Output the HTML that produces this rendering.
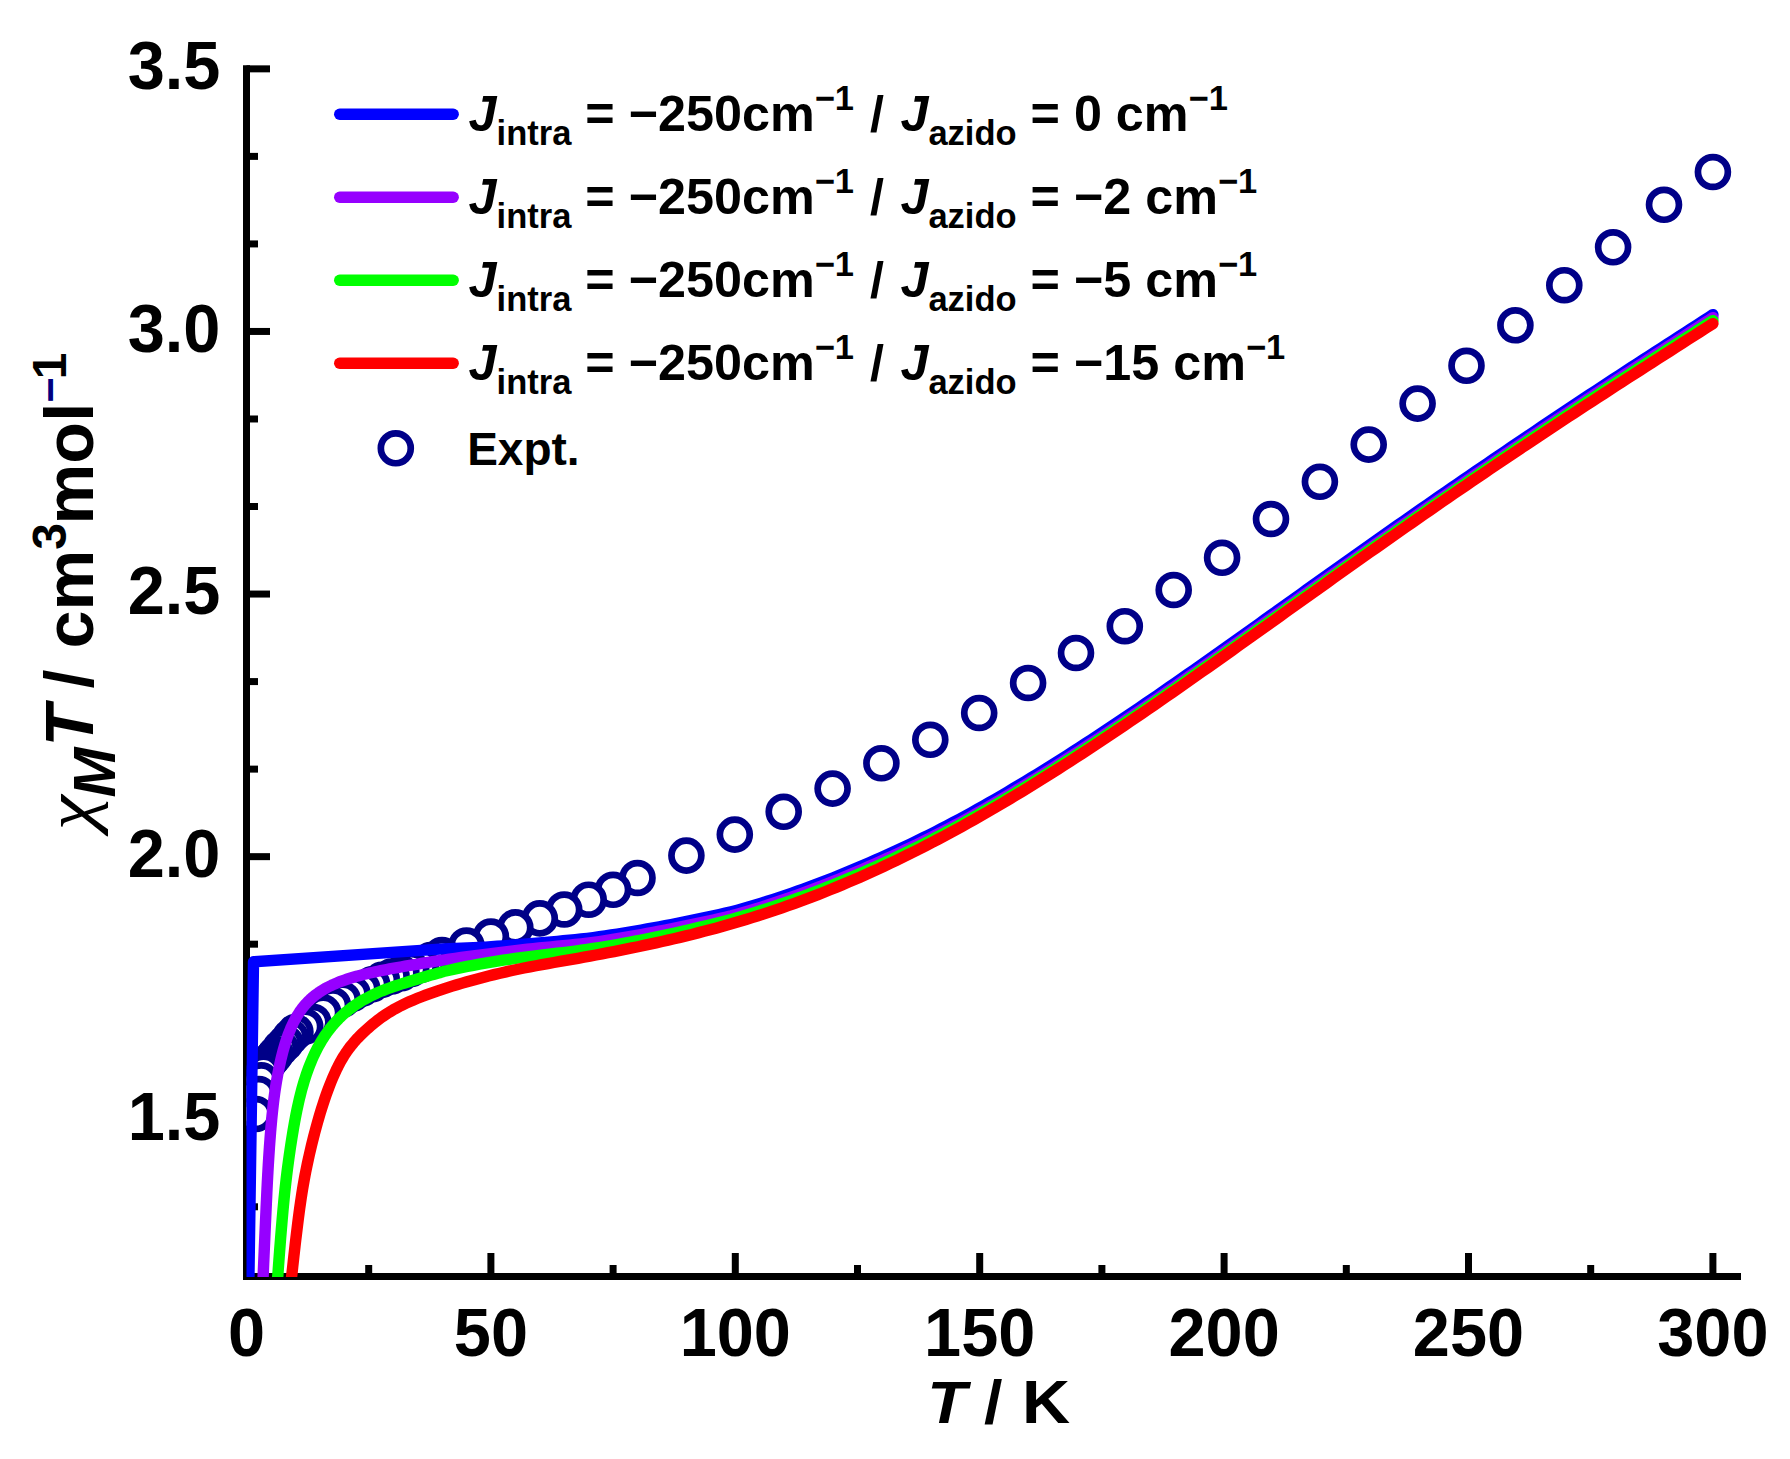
<!DOCTYPE html>
<html lang="en">
<head>
<meta charset="utf-8">
<title>chi M T vs T</title>
<style>
html,body{margin:0;padding:0;background:#fff;}
body{width:1790px;height:1459px;overflow:hidden;}
svg{display:block;}
</style>
</head>
<body>
<svg width="1790" height="1459" viewBox="0 0 1790 1459">
<defs><clipPath id="pc"><rect x="246.5" y="0" width="1540" height="1277"/></clipPath></defs>
<rect width="1790" height="1459" fill="#fff"/>
<g stroke="#000" stroke-width="7" fill="none" stroke-linecap="butt">
<path d="M246.5 65.35V1280"/>
<path d="M243 1276.5H1741"/>
<path d="M246.5 68.85h23.5"/>
<path d="M246.5 156.38h11.5"/>
<path d="M246.5 243.92h11.5"/>
<path d="M246.5 331.45h23.5"/>
<path d="M246.5 418.98h11.5"/>
<path d="M246.5 506.52h11.5"/>
<path d="M246.5 594.05h23.5"/>
<path d="M246.5 681.58h11.5"/>
<path d="M246.5 769.12h11.5"/>
<path d="M246.5 856.65h23.5"/>
<path d="M246.5 944.18h11.5"/>
<path d="M246.5 1031.72h11.5"/>
<path d="M246.5 1119.25h23.5"/>
<path d="M246.5 1206.78h11.5"/>
<path d="M246.50 1276.5v-23.5"/>
<path d="M368.70 1276.5v-11.5"/>
<path d="M490.90 1276.5v-23.5"/>
<path d="M613.10 1276.5v-11.5"/>
<path d="M735.30 1276.5v-23.5"/>
<path d="M857.50 1276.5v-11.5"/>
<path d="M979.70 1276.5v-23.5"/>
<path d="M1101.90 1276.5v-11.5"/>
<path d="M1224.10 1276.5v-23.5"/>
<path d="M1346.30 1276.5v-11.5"/>
<path d="M1468.50 1276.5v-23.5"/>
<path d="M1590.70 1276.5v-11.5"/>
<path d="M1712.90 1276.5v-23.5"/>
</g>
<g fill="#fff" stroke="#000088" stroke-width="6.7" clip-path="url(#pc)">
<circle cx="1712.9" cy="172.0" r="14.95"/>
<circle cx="1664.0" cy="204.8" r="14.95"/>
<circle cx="1613.1" cy="247.3" r="14.95"/>
<circle cx="1564.3" cy="285.2" r="14.95"/>
<circle cx="1515.4" cy="325.3" r="14.95"/>
<circle cx="1466.5" cy="365.8" r="14.95"/>
<circle cx="1417.6" cy="403.6" r="14.95"/>
<circle cx="1368.7" cy="444.6" r="14.95"/>
<circle cx="1319.9" cy="481.8" r="14.95"/>
<circle cx="1271.0" cy="519.0" r="14.95"/>
<circle cx="1222.1" cy="557.8" r="14.95"/>
<circle cx="1173.7" cy="590.0" r="14.95"/>
<circle cx="1124.8" cy="626.2" r="14.95"/>
<circle cx="1076.0" cy="653.0" r="14.95"/>
<circle cx="1028.1" cy="683.0" r="14.95"/>
<circle cx="979.2" cy="713.0" r="14.95"/>
<circle cx="930.3" cy="739.8" r="14.95"/>
<circle cx="881.4" cy="763.3" r="14.95"/>
<circle cx="832.6" cy="788.6" r="14.95"/>
<circle cx="783.7" cy="811.8" r="14.95"/>
<circle cx="734.8" cy="834.6" r="14.95"/>
<circle cx="686.4" cy="855.6" r="14.95"/>
<circle cx="637.5" cy="878.0" r="14.95"/>
<circle cx="613.1" cy="889.8" r="14.95"/>
<circle cx="588.7" cy="899.7" r="14.95"/>
<circle cx="564.2" cy="909.5" r="14.95"/>
<circle cx="539.8" cy="918.4" r="14.95"/>
<circle cx="515.3" cy="927.4" r="14.95"/>
<circle cx="490.9" cy="936.5" r="14.95"/>
<circle cx="466.5" cy="945.5" r="14.95"/>
<circle cx="442.0" cy="955.0" r="14.95"/>
<circle cx="430.7" cy="960.0" r="14.95"/>
<circle cx="421.0" cy="964.9" r="14.95"/>
<circle cx="411.2" cy="969.0" r="14.95"/>
<circle cx="401.4" cy="973.2" r="14.95"/>
<circle cx="391.6" cy="976.5" r="14.95"/>
<circle cx="381.9" cy="979.9" r="14.95"/>
<circle cx="372.1" cy="984.2" r="14.95"/>
<circle cx="362.3" cy="988.6" r="14.95"/>
<circle cx="352.5" cy="993.7" r="14.95"/>
<circle cx="342.8" cy="999.5" r="14.95"/>
<circle cx="333.0" cy="1005.3" r="14.95"/>
<circle cx="323.2" cy="1012.6" r="14.95"/>
<circle cx="313.4" cy="1022.0" r="14.95"/>
<circle cx="305.2" cy="1026.5" r="14.95"/>
<circle cx="295.4" cy="1032.0" r="14.95"/>
<circle cx="290.5" cy="1037.0" r="14.95"/>
<circle cx="285.6" cy="1043.0" r="14.95"/>
<circle cx="280.7" cy="1048.0" r="14.95"/>
<circle cx="275.8" cy="1054.0" r="14.95"/>
<circle cx="273.4" cy="1057.0" r="14.95"/>
<circle cx="270.9" cy="1060.0" r="14.95"/>
<circle cx="268.5" cy="1063.0" r="14.95"/>
<circle cx="266.1" cy="1066.0" r="14.95"/>
<circle cx="263.6" cy="1071.6" r="14.95"/>
<circle cx="261.2" cy="1080.4" r="14.95"/>
<circle cx="258.7" cy="1094.0" r="14.95"/>
<circle cx="255.8" cy="1114.0" r="14.95"/>
</g>
<g fill="none" stroke-width="11.4" stroke-linecap="round" stroke-linejoin="round" clip-path="url(#pc)">
<path stroke="#0000ff" d="M248.60 1300.00 L253.50 961.80 L443.30 948.92 L449.30 948.70 L455.30 948.47 L461.30 948.23 L467.30 947.98 L473.30 947.71 L479.30 947.41 L485.30 947.07 L491.30 946.70 L497.30 946.28 L503.30 945.82 L509.30 945.34 L515.30 944.86 L521.30 944.37 L527.30 943.88 L533.30 943.39 L539.30 942.88 L545.30 942.37 L551.30 941.86 L557.30 941.34 L563.30 940.80 L569.30 940.24 L575.30 939.63 L581.30 938.98 L587.30 938.29 L593.30 937.54 L599.30 936.74 L605.30 935.89 L611.30 935.00 L617.30 934.06 L623.30 933.09 L629.30 932.08 L635.30 931.06 L641.30 930.01 L647.30 928.95 L653.30 927.88 L659.30 926.77 L665.30 925.64 L671.30 924.47 L677.30 923.28 L683.30 922.07 L689.30 920.83 L695.30 919.58 L701.30 918.30 L707.30 917.05 L713.30 915.80 L719.30 914.53 L725.30 913.18 L731.30 911.73 L737.30 910.14 L743.30 908.47 L749.30 906.75 L755.30 904.98 L761.30 903.17 L767.30 901.30 L773.30 899.38 L779.30 897.41 L785.30 895.40 L791.30 893.34 L797.30 891.23 L803.30 889.08 L809.30 886.89 L815.30 884.65 L821.30 882.37 L827.30 880.05 L833.30 877.68 L839.30 875.28 L845.30 872.84 L851.30 870.36 L857.30 867.85 L863.30 865.30 L869.30 862.71 L875.30 860.09 L881.30 857.43 L887.30 854.74 L893.30 852.00 L899.30 849.23 L905.30 846.41 L911.30 843.56 L917.30 840.66 L923.30 837.73 L929.30 834.75 L935.30 831.72 L941.30 828.66 L947.30 825.55 L953.30 822.39 L959.30 819.19 L965.30 815.95 L971.30 812.66 L977.30 809.32 L983.30 805.94 L989.30 802.52 L995.30 799.07 L1001.30 795.58 L1007.30 792.07 L1013.30 788.51 L1019.30 784.93 L1025.30 781.32 L1031.30 777.67 L1037.30 774.00 L1043.30 770.30 L1049.30 766.57 L1055.30 762.81 L1061.30 759.02 L1067.30 755.21 L1073.30 751.37 L1079.30 747.51 L1085.30 743.62 L1091.30 739.71 L1097.30 735.78 L1103.30 731.82 L1109.30 727.84 L1115.30 723.85 L1121.30 719.83 L1127.30 715.79 L1133.30 711.74 L1139.30 707.66 L1145.30 703.57 L1151.30 699.46 L1157.30 695.34 L1163.30 691.20 L1169.30 687.05 L1175.30 682.89 L1181.30 678.71 L1187.30 674.52 L1193.30 670.31 L1199.30 666.10 L1205.30 661.88 L1211.30 657.64 L1217.30 653.40 L1223.30 649.15 L1229.30 644.89 L1235.30 640.63 L1241.30 636.36 L1247.30 632.09 L1253.30 627.81 L1259.30 623.53 L1265.30 619.25 L1271.30 614.97 L1277.30 610.68 L1283.30 606.40 L1289.30 602.11 L1295.30 597.83 L1301.30 593.54 L1307.30 589.26 L1313.30 584.98 L1319.30 580.70 L1325.30 576.43 L1331.30 572.16 L1337.30 567.89 L1343.30 563.62 L1349.30 559.37 L1355.30 555.11 L1361.30 550.86 L1367.30 546.62 L1373.30 542.38 L1379.30 538.15 L1385.30 533.93 L1391.30 529.72 L1397.30 525.51 L1403.30 521.31 L1409.30 517.11 L1415.30 512.93 L1421.30 508.75 L1427.30 504.59 L1433.30 500.43 L1439.30 496.28 L1445.30 492.14 L1451.30 488.01 L1457.30 483.89 L1463.30 479.78 L1469.30 475.68 L1475.30 471.58 L1481.30 467.49 L1487.30 463.40 L1493.30 459.31 L1499.30 455.23 L1505.30 451.15 L1511.30 447.08 L1517.30 443.01 L1523.30 438.95 L1529.30 434.90 L1535.30 430.85 L1541.30 426.82 L1547.30 422.79 L1553.30 418.77 L1559.30 414.76 L1565.30 410.76 L1571.30 406.77 L1577.30 402.80 L1583.30 398.83 L1589.30 394.87 L1595.30 390.93 L1601.30 386.99 L1607.30 383.06 L1613.30 379.13 L1619.30 375.22 L1625.30 371.30 L1631.30 367.40 L1637.30 363.50 L1643.30 359.60 L1649.30 355.71 L1655.30 351.82 L1661.30 347.94 L1667.30 344.06 L1673.30 340.18 L1679.30 336.30 L1685.30 332.42 L1691.30 328.55 L1697.30 324.68 L1703.30 320.80 L1709.30 316.93 L1712.90 314.60"/>
<path stroke="#9600ff" d="M262.19 1300.20 L262.25 1298.45 L262.33 1296.42 L262.41 1294.11 L262.51 1291.54 L262.63 1288.74 L262.75 1285.71 L262.88 1282.47 L263.02 1279.05 L263.17 1275.45 L263.33 1271.69 L263.49 1267.80 L263.66 1263.78 L263.84 1259.65 L264.02 1255.43 L264.21 1251.14 L264.40 1246.79 L264.59 1242.41 L264.78 1237.99 L264.98 1233.57 L265.17 1229.16 L265.37 1224.78 L265.56 1220.44 L265.75 1216.15 L265.95 1211.95 L266.13 1207.83 L266.32 1203.83 L266.50 1199.95 L266.67 1196.20 L266.84 1192.56 L267.01 1189.02 L267.18 1185.56 L267.35 1182.15 L267.53 1178.79 L267.70 1175.45 L267.89 1172.11 L268.08 1168.76 L268.27 1165.37 L268.48 1161.94 L268.70 1158.43 L268.92 1154.85 L269.17 1151.19 L269.42 1147.46 L269.69 1143.69 L269.97 1139.87 L270.26 1136.02 L270.57 1132.15 L270.89 1128.26 L271.23 1124.38 L271.59 1120.51 L271.95 1116.65 L272.34 1112.83 L272.74 1109.04 L273.16 1105.31 L273.59 1101.64 L274.04 1098.04 L274.51 1094.51 L274.99 1091.06 L275.50 1087.68 L276.02 1084.37 L276.55 1081.12 L277.10 1077.94 L277.67 1074.82 L278.26 1071.77 L278.86 1068.77 L279.48 1065.83 L280.11 1062.94 L280.76 1060.10 L281.42 1057.32 L282.10 1054.59 L282.80 1051.90 L283.52 1049.27 L284.25 1046.69 L285.01 1044.16 L285.79 1041.68 L286.59 1039.25 L287.41 1036.87 L288.26 1034.54 L289.14 1032.25 L290.04 1030.02 L290.97 1027.83 L291.92 1025.70 L292.91 1023.61 L293.92 1021.57 L294.97 1019.58 L296.05 1017.63 L297.16 1015.74 L298.31 1013.89 L299.49 1012.08 L300.71 1010.33 L301.96 1008.62 L303.26 1006.95 L304.59 1005.34 L305.96 1003.77 L307.37 1002.24 L308.82 1000.76 L310.32 999.33 L311.86 997.94 L313.44 996.60 L315.07 995.29 L316.74 994.03 L318.45 992.81 L320.20 991.62 L322.00 990.48 L323.84 989.37 L325.72 988.29 L327.64 987.25 L329.61 986.25 L331.62 985.27 L333.67 984.33 L335.77 983.41 L337.91 982.53 L340.09 981.67 L342.31 980.83 L344.58 980.02 L346.88 979.24 L349.24 978.48 L351.63 977.74 L354.06 977.01 L356.54 976.31 L359.06 975.63 L361.62 974.96 L364.23 974.31 L366.87 973.68 L369.56 973.05 L372.29 972.44 L375.07 971.84 L377.88 971.25 L380.74 970.67 L383.64 970.10 L386.58 969.53 L389.56 968.97 L392.59 968.41 L395.65 967.85 L398.76 967.30 L401.91 966.75 L405.10 966.20 L408.32 965.65 L411.56 965.10 L414.82 964.55 L418.09 964.01 L421.36 963.48 L424.61 962.96 L427.86 962.44 L431.08 961.93 L434.28 961.43 L437.43 960.94 L440.55 960.46 L443.30 960.04 L449.30 959.16 L455.30 958.30 L461.30 957.47 L467.30 956.66 L473.30 955.87 L479.30 955.09 L485.30 954.33 L491.30 953.57 L497.30 952.82 L503.30 952.08 L509.30 951.34 L515.30 950.63 L521.30 949.94 L527.30 949.27 L533.30 948.63 L539.30 948.01 L545.30 947.41 L551.30 946.84 L557.30 946.28 L563.30 945.71 L569.30 945.13 L575.30 944.51 L581.30 943.85 L587.30 943.14 L593.30 942.38 L599.30 941.55 L605.30 940.66 L611.30 939.72 L617.30 938.75 L623.30 937.74 L629.30 936.70 L635.30 935.64 L641.30 934.56 L647.30 933.46 L653.30 932.35 L659.30 931.21 L665.30 930.04 L671.30 928.84 L677.30 927.61 L683.30 926.36 L689.30 925.09 L695.30 923.80 L701.30 922.50 L707.30 921.22 L713.30 919.96 L719.30 918.68 L725.30 917.32 L731.30 915.85 L737.30 914.23 L743.30 912.52 L749.30 910.77 L755.30 908.97 L761.30 907.12 L767.30 905.22 L773.30 903.28 L779.30 901.28 L785.30 899.24 L791.30 897.16 L797.30 895.03 L803.30 892.86 L809.30 890.64 L815.30 888.38 L821.30 886.08 L827.30 883.74 L833.30 881.36 L839.30 878.93 L845.30 876.47 L851.30 873.98 L857.30 871.45 L863.30 868.88 L869.30 866.29 L875.30 863.66 L881.30 861.01 L887.30 858.32 L893.30 855.59 L899.30 852.83 L905.30 850.03 L911.30 847.19 L917.30 844.31 L923.30 841.39 L929.30 838.43 L935.30 835.42 L941.30 832.36 L947.30 829.27 L953.30 826.12 L959.30 822.92 L965.30 819.67 L971.30 816.38 L977.30 813.03 L983.30 809.63 L989.30 806.19 L995.30 802.72 L1001.30 799.22 L1007.30 795.68 L1013.30 792.11 L1019.30 788.51 L1025.30 784.88 L1031.30 781.22 L1037.30 777.53 L1043.30 773.81 L1049.30 770.06 L1055.30 766.29 L1061.30 762.48 L1067.30 758.65 L1073.30 754.80 L1079.30 750.92 L1085.30 747.02 L1091.30 743.09 L1097.30 739.15 L1103.30 735.18 L1109.30 731.19 L1115.30 727.17 L1121.30 723.14 L1127.30 719.09 L1133.30 715.03 L1139.30 710.94 L1145.30 706.84 L1151.30 702.73 L1157.30 698.59 L1163.30 694.45 L1169.30 690.29 L1175.30 686.11 L1181.30 681.93 L1187.30 677.73 L1193.30 673.53 L1199.30 669.31 L1205.30 665.08 L1211.30 660.85 L1217.30 656.60 L1223.30 652.35 L1229.30 648.09 L1235.30 643.83 L1241.30 639.56 L1247.30 635.29 L1253.30 631.01 L1259.30 626.73 L1265.30 622.45 L1271.30 618.17 L1277.30 613.88 L1283.30 609.60 L1289.30 605.31 L1295.30 601.03 L1301.30 596.74 L1307.30 592.46 L1313.30 588.18 L1319.30 583.90 L1325.30 579.63 L1331.30 575.36 L1337.30 571.09 L1343.30 566.82 L1349.30 562.57 L1355.30 558.31 L1361.30 554.06 L1367.30 549.82 L1373.30 545.58 L1379.30 541.35 L1385.30 537.13 L1391.30 532.92 L1397.30 528.71 L1403.30 524.51 L1409.30 520.31 L1415.30 516.13 L1421.30 511.95 L1427.30 507.79 L1433.30 503.63 L1439.30 499.48 L1445.30 495.34 L1451.30 491.21 L1457.30 487.09 L1463.30 482.98 L1469.30 478.88 L1475.30 474.78 L1481.30 470.68 L1487.30 466.59 L1493.30 462.50 L1499.30 458.41 L1505.30 454.33 L1511.30 450.26 L1517.30 446.18 L1523.30 442.12 L1529.30 438.06 L1535.30 434.01 L1541.30 429.97 L1547.30 425.93 L1553.30 421.91 L1559.30 417.89 L1565.30 413.89 L1571.30 409.89 L1577.30 405.91 L1583.30 401.94 L1589.30 397.97 L1595.30 394.02 L1601.30 390.08 L1607.30 386.15 L1613.30 382.22 L1619.30 378.29 L1625.30 374.38 L1631.30 370.47 L1637.30 366.56 L1643.30 362.66 L1649.30 358.76 L1655.30 354.87 L1661.30 350.98 L1667.30 347.09 L1673.30 343.21 L1679.30 339.33 L1685.30 335.45 L1691.30 331.57 L1697.30 327.69 L1703.30 323.81 L1709.30 319.93 L1712.90 317.60"/>
<path stroke="#00ff00" d="M276.28 1300.16 L276.37 1298.35 L276.49 1296.22 L276.63 1293.77 L276.79 1291.03 L276.98 1288.02 L277.19 1284.75 L277.42 1281.26 L277.68 1277.56 L277.95 1273.67 L278.23 1269.61 L278.54 1265.40 L278.86 1261.07 L279.19 1256.62 L279.53 1252.08 L279.89 1247.48 L280.25 1242.83 L280.62 1238.15 L281.00 1233.46 L281.39 1228.79 L281.78 1224.15 L282.17 1219.56 L282.57 1215.04 L282.96 1210.62 L283.36 1206.31 L283.75 1202.14 L284.14 1198.12 L284.53 1194.24 L284.92 1190.49 L285.31 1186.83 L285.71 1183.26 L286.12 1179.74 L286.53 1176.25 L286.96 1172.78 L287.40 1169.29 L287.86 1165.77 L288.34 1162.19 L288.84 1158.54 L289.37 1154.79 L289.92 1150.96 L290.49 1147.05 L291.09 1143.09 L291.72 1139.08 L292.36 1135.03 L293.04 1130.96 L293.74 1126.88 L294.46 1122.80 L295.21 1118.74 L295.99 1114.70 L296.79 1110.70 L297.62 1106.75 L298.47 1102.86 L299.35 1099.04 L300.26 1095.31 L301.19 1091.66 L302.15 1088.09 L303.14 1084.60 L304.16 1081.18 L305.21 1077.84 L306.28 1074.58 L307.39 1071.39 L308.52 1068.28 L309.68 1065.24 L310.87 1062.27 L312.10 1059.37 L313.35 1056.54 L314.64 1053.77 L315.95 1051.07 L317.30 1048.44 L318.68 1045.88 L320.09 1043.37 L321.53 1040.93 L323.00 1038.55 L324.51 1036.23 L326.05 1033.97 L327.63 1031.77 L329.24 1029.62 L330.88 1027.53 L332.56 1025.49 L334.27 1023.51 L336.02 1021.58 L337.81 1019.70 L339.63 1017.86 L341.48 1016.08 L343.37 1014.35 L345.30 1012.66 L347.27 1011.02 L349.27 1009.42 L351.31 1007.87 L353.39 1006.36 L355.50 1004.89 L357.65 1003.46 L359.83 1002.07 L362.05 1000.73 L364.29 999.42 L366.56 998.16 L368.87 996.93 L371.19 995.74 L373.55 994.59 L375.92 993.48 L378.33 992.41 L380.75 991.37 L383.19 990.37 L385.65 989.41 L388.15 988.48 L390.69 987.56 L393.29 986.65 L395.97 985.75 L398.75 984.84 L401.63 983.91 L404.64 982.95 L407.75 981.98 L410.95 980.99 L414.22 979.99 L417.54 978.99 L420.89 977.99 L424.26 977.00 L427.63 976.03 L430.97 975.08 L434.27 974.16 L437.51 973.28 L440.68 972.43 L443.30 971.56 L449.30 970.20 L455.30 968.90 L461.30 967.64 L467.30 966.45 L473.30 965.30 L479.30 964.19 L485.30 963.12 L491.30 962.10 L497.30 961.12 L503.30 960.18 L509.30 959.30 L515.30 958.46 L521.30 957.67 L527.30 956.91 L533.30 956.17 L539.30 955.44 L545.30 954.71 L551.30 953.99 L557.30 953.28 L563.30 952.56 L569.30 951.82 L575.30 951.05 L581.30 950.24 L587.30 949.40 L593.30 948.50 L599.30 947.56 L605.30 946.57 L611.30 945.54 L617.30 944.49 L623.30 943.40 L629.30 942.29 L635.30 941.15 L641.30 939.99 L647.30 938.80 L653.30 937.60 L659.30 936.36 L665.30 935.09 L671.30 933.79 L677.30 932.45 L683.30 931.10 L689.30 929.71 L695.30 928.30 L701.30 926.87 L707.30 925.43 L713.30 923.98 L719.30 922.51 L725.30 920.98 L731.30 919.39 L737.30 917.72 L743.30 915.99 L749.30 914.22 L755.30 912.40 L761.30 910.54 L767.30 908.63 L773.30 906.67 L779.30 904.68 L785.30 902.63 L791.30 900.55 L797.30 898.42 L803.30 896.24 L809.30 894.02 L815.30 891.76 L821.30 889.45 L827.30 887.11 L833.30 884.72 L839.30 882.29 L845.30 879.81 L851.30 877.30 L857.30 874.75 L863.30 872.15 L869.30 869.52 L875.30 866.85 L881.30 864.14 L887.30 861.39 L893.30 858.60 L899.30 855.77 L905.30 852.89 L911.30 849.98 L917.30 847.03 L923.30 844.03 L929.30 841.00 L935.30 837.92 L941.30 834.80 L947.30 831.64 L953.30 828.44 L959.30 825.20 L965.30 821.92 L971.30 818.59 L977.30 815.23 L983.30 811.83 L989.30 808.39 L995.30 804.92 L1001.30 801.41 L1007.30 797.87 L1013.30 794.30 L1019.30 790.70 L1025.30 787.07 L1031.30 783.40 L1037.30 779.71 L1043.30 775.99 L1049.30 772.24 L1055.30 768.47 L1061.30 764.66 L1067.30 760.84 L1073.30 756.98 L1079.30 753.10 L1085.30 749.20 L1091.30 745.28 L1097.30 741.33 L1103.30 737.36 L1109.30 733.37 L1115.30 729.36 L1121.30 725.33 L1127.30 721.28 L1133.30 717.22 L1139.30 713.13 L1145.30 709.03 L1151.30 704.92 L1157.30 700.79 L1163.30 696.64 L1169.30 692.48 L1175.30 688.31 L1181.30 684.13 L1187.30 679.93 L1193.30 675.72 L1199.30 671.51 L1205.30 667.28 L1211.30 663.04 L1217.30 658.80 L1223.30 654.55 L1229.30 650.29 L1235.30 646.03 L1241.30 641.76 L1247.30 637.49 L1253.30 633.21 L1259.30 628.93 L1265.30 624.65 L1271.30 620.36 L1277.30 616.08 L1283.30 611.79 L1289.30 607.51 L1295.30 603.22 L1301.30 598.93 L1307.30 594.65 L1313.30 590.37 L1319.30 586.09 L1325.30 581.81 L1331.30 577.54 L1337.30 573.27 L1343.30 569.00 L1349.30 564.74 L1355.30 560.48 L1361.30 556.23 L1367.30 551.99 L1373.30 547.75 L1379.30 543.51 L1385.30 539.29 L1391.30 535.07 L1397.30 530.86 L1403.30 526.65 L1409.30 522.46 L1415.30 518.27 L1421.30 514.09 L1427.30 509.92 L1433.30 505.76 L1439.30 501.60 L1445.30 497.46 L1451.30 493.32 L1457.30 489.20 L1463.30 485.08 L1469.30 480.98 L1475.30 476.88 L1481.30 472.78 L1487.30 468.69 L1493.30 464.60 L1499.30 460.52 L1505.30 456.45 L1511.30 452.38 L1517.30 448.32 L1523.30 444.27 L1529.30 440.23 L1535.30 436.20 L1541.30 432.17 L1547.30 428.16 L1553.30 424.15 L1559.30 420.16 L1565.30 416.18 L1571.30 412.21 L1577.30 408.25 L1583.30 404.30 L1589.30 400.37 L1595.30 396.44 L1601.30 392.53 L1607.30 388.62 L1613.30 384.72 L1619.30 380.82 L1625.30 376.93 L1631.30 373.05 L1637.30 369.17 L1643.30 365.29 L1649.30 361.42 L1655.30 357.56 L1661.30 353.70 L1667.30 349.84 L1673.30 345.99 L1679.30 342.14 L1685.30 338.29 L1691.30 334.44 L1697.30 330.60 L1703.30 326.75 L1709.30 322.91 L1712.90 320.60"/>
<path stroke="#ff0000" d="M288.98 1300.22 L289.26 1297.94 L289.58 1295.22 L289.93 1292.10 L290.32 1288.61 L290.74 1284.78 L291.19 1280.65 L291.67 1276.24 L292.18 1271.58 L292.72 1266.71 L293.27 1261.65 L293.85 1256.45 L294.45 1251.12 L295.07 1245.70 L295.70 1240.22 L296.35 1234.72 L297.02 1229.21 L297.69 1223.74 L298.38 1218.34 L299.07 1213.03 L299.77 1207.85 L300.48 1202.83 L301.19 1197.99 L301.90 1193.34 L302.62 1188.83 L303.36 1184.44 L304.12 1180.15 L304.91 1175.92 L305.72 1171.71 L306.56 1167.51 L307.45 1163.28 L308.38 1159.00 L309.35 1154.63 L310.37 1150.18 L311.44 1145.67 L312.55 1141.10 L313.72 1136.48 L314.92 1131.83 L316.17 1127.17 L317.47 1122.49 L318.80 1117.82 L320.18 1113.16 L321.61 1108.53 L323.07 1103.94 L324.58 1099.41 L326.12 1094.93 L327.71 1090.53 L329.33 1086.22 L331.00 1082.01 L332.70 1077.90 L334.44 1073.92 L336.21 1070.08 L338.02 1066.38 L339.87 1062.84 L341.75 1059.47 L343.67 1056.27 L345.62 1053.24 L347.60 1050.37 L349.61 1047.64 L351.65 1045.04 L353.71 1042.57 L355.79 1040.21 L357.89 1037.94 L360.02 1035.76 L362.16 1033.66 L364.31 1031.63 L366.48 1029.65 L368.66 1027.71 L370.85 1025.81 L373.07 1023.93 L375.33 1022.09 L377.63 1020.28 L380.00 1018.49 L382.45 1016.72 L384.98 1014.98 L387.61 1013.25 L390.35 1011.55 L393.22 1009.85 L396.22 1008.18 L399.37 1006.51 L402.69 1004.85 L406.16 1003.20 L409.79 1001.57 L413.56 999.94 L417.46 998.33 L421.48 996.74 L425.62 995.16 L429.85 993.60 L434.18 992.06 L438.59 990.55 L443.07 989.05 L447.60 987.58 L452.19 986.14 L456.82 984.73 L461.48 983.34 L466.16 981.99 L470.85 980.67 L475.53 979.39 L480.21 978.14 L484.86 976.92 L489.49 975.75 L494.07 974.62 L500.00 973.20 L506.00 971.82 L512.00 970.49 L518.00 969.23 L524.00 968.02 L530.00 966.85 L536.00 965.73 L542.00 964.63 L548.00 963.56 L554.00 962.51 L560.00 961.46 L566.00 960.41 L572.00 959.36 L578.00 958.29 L584.00 957.21 L590.00 956.11 L596.00 955.00 L602.00 953.87 L608.00 952.72 L614.00 951.56 L620.00 950.37 L626.00 949.17 L632.00 947.95 L638.00 946.71 L644.00 945.45 L650.00 944.16 L656.00 942.85 L662.00 941.52 L668.00 940.16 L674.00 938.77 L680.00 937.35 L686.00 935.90 L692.00 934.41 L698.00 932.90 L704.00 931.35 L710.00 929.77 L716.00 928.15 L722.00 926.49 L728.00 924.80 L734.00 923.07 L740.00 921.30 L746.00 919.49 L752.00 917.64 L758.00 915.75 L764.00 913.82 L770.00 911.85 L776.00 909.84 L782.00 907.79 L788.00 905.69 L794.00 903.55 L800.00 901.37 L806.00 899.14 L812.00 896.87 L818.00 894.56 L824.00 892.21 L830.00 889.81 L836.00 887.37 L842.00 884.88 L848.00 882.36 L854.00 879.79 L860.00 877.17 L866.00 874.52 L872.00 871.82 L878.00 869.07 L884.00 866.29 L890.00 863.46 L896.00 860.60 L902.00 857.69 L908.00 854.74 L914.00 851.75 L920.00 848.72 L926.00 845.65 L932.00 842.54 L938.00 839.39 L944.00 836.20 L950.00 832.98 L956.00 829.72 L962.00 826.42 L968.00 823.08 L974.00 819.71 L980.00 816.31 L986.00 812.87 L992.00 809.39 L998.00 805.88 L1004.00 802.34 L1010.00 798.77 L1016.00 795.17 L1022.00 791.53 L1028.00 787.87 L1034.00 784.17 L1040.00 780.45 L1046.00 776.70 L1052.00 772.92 L1058.00 769.11 L1064.00 765.28 L1070.00 761.43 L1076.00 757.55 L1082.00 753.64 L1088.00 749.72 L1094.00 745.77 L1100.00 741.80 L1106.00 737.80 L1112.00 733.79 L1118.00 729.76 L1124.00 725.71 L1130.00 721.64 L1136.00 717.56 L1142.00 713.46 L1148.00 709.34 L1154.00 705.21 L1160.00 701.07 L1166.00 696.91 L1172.00 692.74 L1178.00 688.55 L1184.00 684.36 L1190.00 680.15 L1196.00 675.94 L1202.00 671.71 L1208.00 667.48 L1214.00 663.24 L1220.00 658.99 L1226.00 654.74 L1232.00 650.48 L1238.00 646.21 L1244.00 641.94 L1250.00 637.66 L1256.00 633.39 L1262.00 629.11 L1268.00 624.82 L1274.00 620.54 L1280.00 616.26 L1286.00 611.97 L1292.00 607.69 L1298.00 603.40 L1304.00 599.12 L1310.00 594.84 L1316.00 590.56 L1322.00 586.28 L1328.00 582.01 L1334.00 577.73 L1340.00 573.47 L1346.00 569.21 L1352.00 564.95 L1358.00 560.70 L1364.00 556.45 L1370.00 552.21 L1376.00 547.98 L1382.00 543.75 L1388.00 539.53 L1394.00 535.32 L1400.00 531.12 L1406.00 526.92 L1412.00 522.73 L1418.00 518.55 L1424.00 514.38 L1430.00 510.21 L1436.00 506.06 L1442.00 501.92 L1448.00 497.78 L1454.00 493.65 L1460.00 489.54 L1466.00 485.43 L1472.00 481.33 L1478.00 477.25 L1484.00 473.17 L1490.00 469.10 L1496.00 465.04 L1502.00 461.00 L1508.00 456.96 L1514.00 452.93 L1520.00 448.91 L1526.00 444.90 L1532.00 440.90 L1538.00 436.91 L1544.00 432.93 L1550.00 428.96 L1556.00 425.00 L1562.00 421.05 L1568.00 417.10 L1574.00 413.16 L1580.00 409.24 L1586.00 405.32 L1592.00 401.40 L1598.00 397.50 L1604.00 393.60 L1610.00 389.71 L1616.00 385.82 L1622.00 381.94 L1628.00 378.07 L1634.00 374.20 L1640.00 370.34 L1646.00 366.48 L1652.00 362.62 L1658.00 358.77 L1664.00 354.92 L1670.00 351.08 L1676.00 347.23 L1682.00 343.39 L1688.00 339.55 L1694.00 335.70 L1700.00 331.86 L1706.00 328.02 L1712.90 323.60"/>
</g>
<g stroke-width="11.4" stroke-linecap="round">
<path stroke="#0000ff" d="M339.7 114.2H453.2"/>
<path stroke="#9600ff" d="M339.7 197.2H453.2"/>
<path stroke="#00ff00" d="M339.7 280.3H453.2"/>
<path stroke="#ff0000" d="M339.7 363.3H453.2"/>
</g>
<circle cx="395.8" cy="448.3" r="14.95" fill="#fff" stroke="#000088" stroke-width="6.7"/>
<g font-family="'Liberation Sans', Arial, sans-serif" font-weight="bold" font-size="50.3px" fill="#000">
<text x="468.6" y="131.0"><tspan font-style="italic">J</tspan><tspan font-size="34.5px" dy="14">intra</tspan><tspan dy="-14"> = −250cm</tspan><tspan font-size="34.5px" dy="-21">−1</tspan><tspan dy="21" dx="2"> / </tspan><tspan font-style="italic" dx="2.5">J</tspan><tspan font-size="34.5px" dy="14">azido</tspan><tspan dy="-14"> = 0 cm</tspan><tspan font-size="34.5px" dy="-21">−1</tspan></text>
<text x="468.6" y="214.1"><tspan font-style="italic">J</tspan><tspan font-size="34.5px" dy="14">intra</tspan><tspan dy="-14"> = −250cm</tspan><tspan font-size="34.5px" dy="-21">−1</tspan><tspan dy="21" dx="2"> / </tspan><tspan font-style="italic" dx="2.5">J</tspan><tspan font-size="34.5px" dy="14">azido</tspan><tspan dy="-14"> = −2 cm</tspan><tspan font-size="34.5px" dy="-21">−1</tspan></text>
<text x="468.6" y="297.1"><tspan font-style="italic">J</tspan><tspan font-size="34.5px" dy="14">intra</tspan><tspan dy="-14"> = −250cm</tspan><tspan font-size="34.5px" dy="-21">−1</tspan><tspan dy="21" dx="2"> / </tspan><tspan font-style="italic" dx="2.5">J</tspan><tspan font-size="34.5px" dy="14">azido</tspan><tspan dy="-14"> = −5 cm</tspan><tspan font-size="34.5px" dy="-21">−1</tspan></text>
<text x="468.6" y="380.1"><tspan font-style="italic">J</tspan><tspan font-size="34.5px" dy="14">intra</tspan><tspan dy="-14"> = −250cm</tspan><tspan font-size="34.5px" dy="-21">−1</tspan><tspan dy="21" dx="2"> / </tspan><tspan font-style="italic" dx="2.5">J</tspan><tspan font-size="34.5px" dy="14">azido</tspan><tspan dy="-14"> = −15 cm</tspan><tspan font-size="34.5px" dy="-21">−1</tspan></text>
<text x="467.2" y="465.2" font-size="46px">Expt.</text>
</g>
<g font-family="'Liberation Sans', Arial, sans-serif" font-weight="bold" font-size="66.7px" fill="#000">
<text transform="translate(220.4 89.0) scale(1 1.03)" text-anchor="end">3.5</text>
<text transform="translate(220.4 351.7) scale(1 1.03)" text-anchor="end">3.0</text>
<text transform="translate(220.4 614.3) scale(1 1.03)" text-anchor="end">2.5</text>
<text transform="translate(220.4 876.9) scale(1 1.03)" text-anchor="end">2.0</text>
<text transform="translate(220.4 1139.5) scale(1 1.03)" text-anchor="end">1.5</text>
<text transform="translate(246.5 1355.9) scale(1 1.035)" text-anchor="middle">0</text>
<text transform="translate(490.9 1355.9) scale(1 1.035)" text-anchor="middle">50</text>
<text transform="translate(735.3 1355.9) scale(1 1.035)" text-anchor="middle">100</text>
<text transform="translate(979.7 1355.9) scale(1 1.035)" text-anchor="middle">150</text>
<text transform="translate(1224.1 1355.9) scale(1 1.035)" text-anchor="middle">200</text>
<text transform="translate(1468.5 1355.9) scale(1 1.035)" text-anchor="middle">250</text>
<text transform="translate(1712.9 1355.9) scale(1 1.035)" text-anchor="middle">300</text>
</g>
<g font-family="'Liberation Sans', Arial, sans-serif" font-weight="bold" fill="#000">
<text transform="translate(0 1422.9) scale(1 0.915)" x="927.3" y="0" font-size="66.7px"><tspan font-style="italic" font-size="64.5px">T</tspan><tspan x="984">/</tspan><tspan x="1021.9">K</tspan></text>
<g transform="translate(93.1 835) rotate(-90)">
<text transform="translate(4.8 0) scale(1.1 0.97)" x="0" y="0" font-family="'Liberation Serif', 'DejaVu Serif', serif" font-weight="normal" font-style="italic" font-size="72px">χ</text>
<text x="0" y="0" font-size="68.4px"><tspan x="37.4" dy="21.4" font-style="italic" font-size="60px">M</tspan><tspan x="88.5" dy="-21.4" font-style="italic">T</tspan><tspan x="146.5">/</tspan><tspan x="186.5">cm</tspan><tspan font-size="48px" dy="-26.7">3</tspan><tspan dy="26.7" dx="-1.5">mol</tspan><tspan font-size="43.6px" dy="-28" fill="#000080">−</tspan><tspan font-size="48px" dy="1.3" dx="-1.9">1</tspan></text>
</g>
</g>
</svg>
</body>
</html>
